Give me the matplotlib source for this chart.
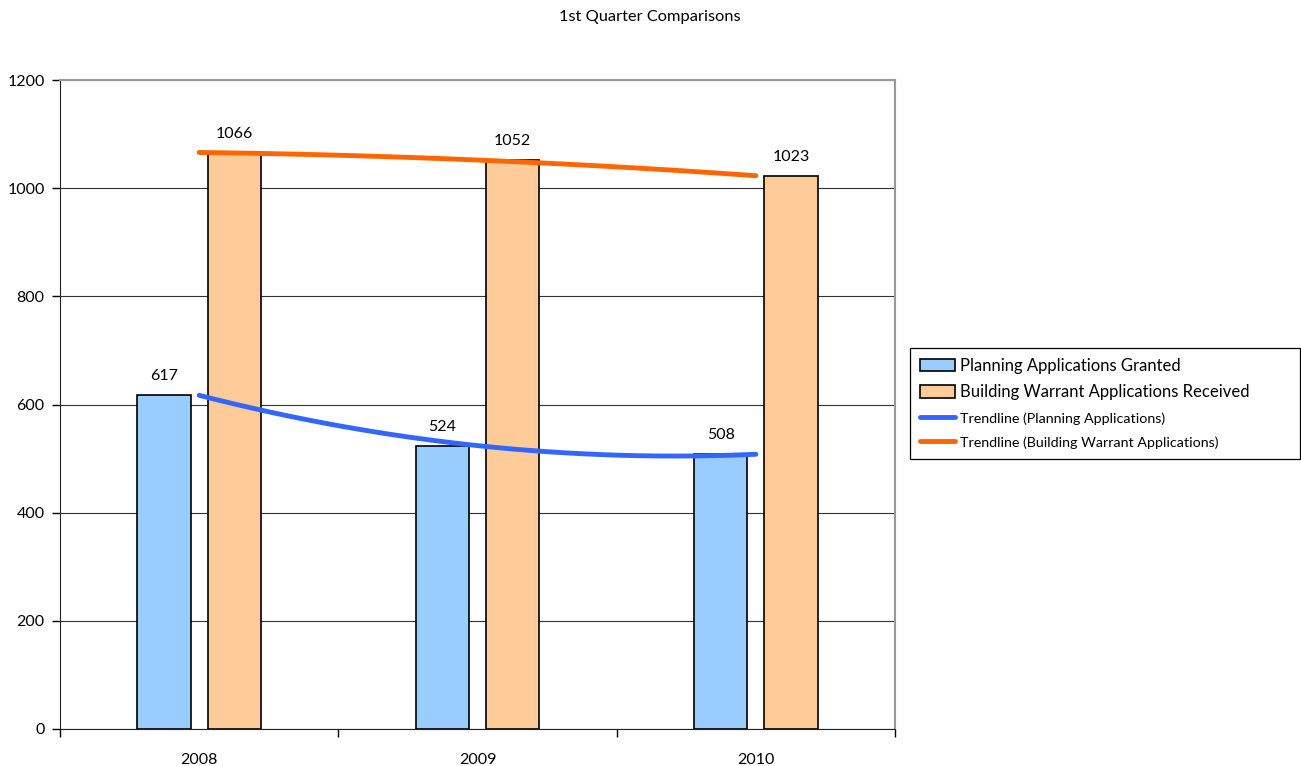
import matplotlib
matplotlib.use("Agg")
import matplotlib.pyplot as plt
import numpy as np

# data
years = ["2008", "2009", "2010"]
planning = [617, 524, 508]
warrants = [1066, 1052, 1023]

plt.rcParams["font.family"] = ["Lato", "DejaVu Sans"]

fig = plt.figure(figsize=(13.01, 7.66), dpi=100)
ax = fig.add_axes([60 / 1301, 1 - 729 / 766, 835 / 1301, 649 / 766])

x = np.arange(len(years))
width = 0.192
off = 0.126

ax.bar(x - off, planning, width, color="#99CCFF", edgecolor="black", linewidth=1.2,
       label="Planning Applications Granted", zorder=2)
ax.bar(x + off, warrants, width, color="#FFCC99", edgecolor="black", linewidth=1.2,
       label="Building Warrant Applications Received", zorder=2)

for xi, v in zip(x - off, planning):
    ax.text(xi, v + 22, str(v), ha="center", va="bottom", fontsize=11.5)
for xi, v in zip(x + off, warrants):
    ax.text(xi, v + 22, str(v), ha="center", va="bottom", fontsize=11.5)

# polynomial (order 2) trendlines, as in the spreadsheet
xs = np.linspace(0, 2, 100)
p_fit = np.polyfit(x, planning, 2)
w_fit = np.polyfit(x, warrants, 2)
ax.plot(xs, np.polyval(p_fit, xs), color="#3366FF", lw=3.5, solid_capstyle="round",
        label="Trendline (Planning Applications)", zorder=3)
ax.plot(xs, np.polyval(w_fit, xs), color="#FF6600", lw=3.5, solid_capstyle="round",
        label="Trendline (Building Warrant Applications)", zorder=3)

ax.set_xlim(-0.5, 2.5)
ax.set_ylim(0, 1200)
ax.set_yticks(range(0, 1201, 200))
ax.set_xticks(x)
ax.set_xticklabels(years)
ax.set_xticks([-0.5, 0.5, 1.5, 2.5], minor=True)
ax.tick_params(axis="x", which="major", length=0, pad=17, labelsize=11.5)
ax.tick_params(axis="x", which="minor", length=6, width=1, direction="out")
ax.tick_params(axis="y", length=6, width=1, direction="out", labelsize=11.5, pad=5)
ax.yaxis.grid(True, color="#333333", lw=0.8, zorder=0)
ax.set_axisbelow(True)

ax.spines["top"].set_color("#999999")
ax.spines["right"].set_color("#999999")
ax.spines["top"].set_linewidth(1.5)
ax.spines["right"].set_linewidth(1.5)
ax.spines["left"].set_color("#222222")
ax.spines["bottom"].set_color("#222222")

fig.text(650 / 1301, 1 - 17 / 766, "1st Quarter Comparisons", ha="center", va="center",
         fontsize=11.8)

handles, labels = ax.get_legend_handles_labels()
order = [2, 3, 0, 1]
leg = fig.legend([handles[i] for i in order], [labels[i] for i in order],
                 loc="upper left",
                 bbox_to_anchor=(910 / 1301, 1 - 461 / 766, 390 / 1301, 113 / 766),
                 mode="expand", fancybox=False, edgecolor="black", framealpha=1,
                 fontsize=12, handlelength=2.1, handleheight=0.75, labelspacing=0.62,
                 borderpad=0.6, handletextpad=0.3, borderaxespad=0)
leg.get_frame().set_linewidth(0.9)
for t in leg.get_texts()[2:]:
    t.set_fontsize(10.3)

fig.savefig("out.png", dpi=100)
